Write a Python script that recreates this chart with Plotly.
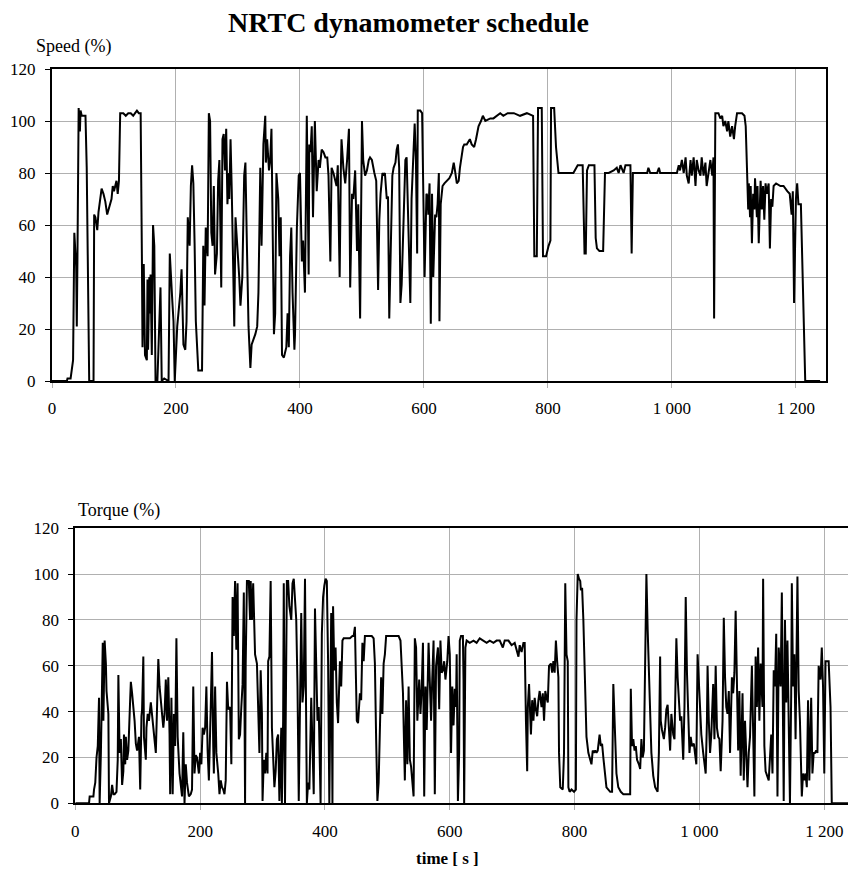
import plotly.graph_objects as go

# ---------------- data ----------------
speed_t = [0,24,25,30,34,36,39,40,41,43,45,46,48,54,56,59,60,67,68,70,73,75,80,83,86,89,94,96,98,100,102,104,106,108,110,115,119,123,127,131,134,137,140,143,
145,146,148,150,153,154,155,157,158,159,161,163,165,167,170,175,177,181,188,190,194,196,198,202,207,209,212,215,217,219,222,224,226,228,230,232,236,242,244,246,248,251,253,255,257,259,261,263,266,268,270,271,273,275,277,279,281,283,285,286,288,290,293,294,296,299,302,304,307,310,312,314,317,320,322,325,328,331,333,336,338,341,344,345,347,350,352,354,356,358,360,362,365,367,369,371,374,378,380,382,384,386,388,391,392,395,398,400,
403,405,408,411,414,415,417,419,421,423,424,427,430,432,435,438,441,444,446,449,451,454,457,459,461,464,466,467,470,473,476,479,481,484,486,489,492,494,497,500,502,505,508,511,513,516,520,523,526,528,530,533,535,537,540,542,544,547,549,551,554,556,558,560,562,564,567,570,572,575,578,580,583,585,587,589,590,594,597,599,
601,604,606,607,609,611,613,615,618,620,622,624,625,627,630,633,637,641,645,648,650,653,656,658,663,665,669,674,677,681,684,688,692,695,699,707,712,718,723,728,735,745,755,766,776,778,782,784,790,792,797,801,804,805,810,813,817,825,836,
841,848,856,859,861,863,866,875,877,879,883,889,891,892,898,906,911,914,917,922,925,933,935,937,944,960,962,965,976,979,981,1008,1011,1013,1016,1019,1022,1024,1027,1030,1032,1035,1038,1040,1043,1046,1048,1051,1054,1056,1059,1062,1065,1067,1068,1070,1075,1078,1081,1083,1086,1089,1091,1094,1097,1100,1102,1105,1113,1117,1119,
1121,1123,1124,1126,1127,1129,1131,1133,1134,1137,1138,1140,1143,1145,1147,1149,1151,1153,1156,1158,1160,1162,1164,1168,1175,1180,1186,1190,1193,1195,1197,1200,1202,1204,1208,1210,1213,1215,1239]
speed_v = [0,0,1,1,8,57,44,21,46,105,96,104,102,102,82,2,0,0,64,63,58,65,74,72,69,64,69,70,75,73,75,77,72,77,103,103,102,103,103,102,103,104,103,103,
48,13,45,10,8,39,12,40,26,41,10,60,52,0,0,36,0,1,0,49,31,23,0,21,34,43,14,12,23,63,52,75,83,76,53,23,4,4,52,29,59,48,103,100,57,52,75,41,49,77,85,63,36,93,95,81,97,68,80,70,93,73,36,21,63,52,40,29,40,79,84,57,21,5,14,16,18,21,34,82,52,91,102,84,93,81,85,97,64,18,26,80,70,48,63,10,9,13,26,13,48,59,34,12,18,59,79,80,
46,54,34,102,41,91,88,98,63,90,100,73,85,82,89,88,86,86,79,46,82,80,77,75,83,40,82,93,82,76,85,97,36,72,70,81,50,68,24,100,85,79,81,85,86,85,80,77,35,62,72,80,79,80,70,71,24,59,79,82,84,89,91,82,30,37,67,85,86,59,30,70,86,99,85,49,104,104,103,72,
40,72,71,64,76,22,72,40,64,63,68,80,23,68,75,76,77,78,80,84,81,76,77,82,90,91,91,93,91,90,93,98,100,102,100,101,101,102,103,102,103,103,102,103,102,48,48,105,105,48,48,52,54,105,105,90,80,80,80,
80,83,83,49,49,81,83,83,55,51,50,50,66,80,80,81,82,80,83,80,83,83,49,80,80,80,82,80,80,82,80,80,83,81,85,80,86,79,76,85,79,86,75,85,81,79,86,79,84,75,80,85,79,86,24,103,103,101,102,98,100,96,100,94,98,93,98,103,103,102,98,
77,66,76,63,75,53,72,66,78,63,75,53,77,66,75,62,76,72,76,51,70,67,75,76,75,75,73,72,64,73,30,70,76,68,68,46,14,0,0]

torque_t = [0,22,23,29,30,32,34,36,38,39,41,43,44,45,47,49,50,53,54,57,59,61,63,66,68,69,71,73,75,77,78,80,81,83,85,88,89,91,93,95,97,99,102,104,106,107,109,110,113,114,116,118,121,123,125,127,129,131,133,135,137,139,141,143,145,147,149,151,152,154,156,158,160,162,164,167,169,171,173,175,177,179,182,185,187,189,191,193,195,198,
200,202,204,206,208,210,212,214,217,219,221,222,224,226,229,231,233,235,237,239,241,243,245,248,250,252,254,256,258,260,262,264,266,268,270,272,273,275,278,280,281,283,285,287,
288,291,293,295,297,299,300,302,304,306,308,309,311,313,315,317,319,321,323,325,327,330,331,333,334,336,338,339,341,343,346,348,350,352,354,356,358,360,362,364,366,368,370,371,373,375,378,380,382,384,386,388,390,393,395,397,399,
401,403,405,407,409,410,412,413,415,417,419,421,424,426,428,430,435,440,444,446,448,450,451,453,456,458,460,462,464,468,475,478,480,482,484,486,488,490,492,494,496,498,502,507,512,518,521,523,525,527,528,530,532,534,536,538,540,542,544,546,548,551,553,555,557,559,561,563,566,568,570,572,574,576,578,581,583,585,587,589,591,593,596,598,
600,602,604,606,608,610,611,613,615,616,618,621,622,623,625,627,632,638,643,648,654,659,664,670,675,680,685,688,694,699,704,710,712,715,718,720,722,724,725,727,730,732,734,736,738,740,742,744,747,749,751,753,755,757,759,762,764,766,768,770,772,774,775,777,781,783,785,787,789,790,792,795,799,
802,803,805,807,809,810,812,814,817,819,822,825,827,829,831,833,835,837,840,842,844,846,849,851,857,860,862,865,867,870,874,878,889,890,892,894,896,898,900,903,905,907,909,911,913,915,917,919,921,923,926,929,933,935,937,938,940,943,945,947,949,951,953,955,958,960,962,963,965,967,969,971,974,976,978,980,982,984,986,988,991,993,995,997,999,
1001,1003,1006,1008,1010,1012,1013,1015,1017,1019,1022,1024,1026,1028,1030,1032,1034,1037,1039,1041,1043,1045,1047,1049,1052,1054,1056,1058,1060,1062,1064,1066,1069,1071,1073,1075,1077,1079,1081,1084,1086,1088,1090,1092,1094,1096,1098,
1101,1102,1104,1106,1108,1111,1115,1117,1119,1121,1123,1125,1127,1130,1132,1134,1135,1137,1139,1141,1143,1145,1147,1148,1150,1152,1154,1157,1159,1161,1164,1166,1168,1170,1172,1174,1176,1179,1181,1183,1185,1187,1189,1191,1194,1196,1198,
1200,1202,1207,1210,1212,1238]
torque_v = [0,0,3,3,6,9,20,25,46,0,22,48,70,36,71,61,49,39,0,3,8,4,4,5,19,56,22,28,8,14,30,17,29,19,23,46,53,48,42,36,26,23,29,6,38,41,64,29,19,33,39,36,44,39,33,29,22,42,63,51,45,36,33,39,54,36,55,30,4,46,4,39,25,72,29,13,7,3,31,0,17,9,3,4,6,51,13,21,20,13,
22,17,33,30,33,51,23,10,42,66,25,13,51,22,13,4,10,7,6,4,10,53,41,42,17,90,73,97,67,96,28,30,42,52,92,0,61,97,97,80,97,80,96,65,
65,61,36,22,58,39,1,19,13,22,13,62,64,97,33,22,7,14,28,30,1,33,0,36,96,0,62,97,97,86,80,96,98,89,80,51,1,42,83,44,51,98,46,0,9,6,46,22,4,85,54,36,42,0,74,90,95,
98,97,62,0,51,83,0,86,58,68,44,35,62,51,71,72,72,72,73,73,77,38,36,35,48,45,70,62,73,73,73,72,61,28,1,9,42,55,39,61,65,73,73,73,73,73,71,58,48,22,10,45,17,51,19,16,9,3,72,68,36,54,39,50,70,3,51,32,70,54,36,55,71,4,60,68,41,71,57,58,62,54,62,73,
65,22,51,34,50,42,65,1,22,71,73,73,54,0,68,71,70,71,70,72,71,70,71,70,71,71,68,71,71,69,70,64,69,66,70,70,36,14,42,52,30,45,36,46,41,38,45,49,42,48,36,49,46,44,60,61,57,62,57,71,62,55,22,7,6,22,96,65,62,7,5,6,5,
6,80,100,98,97,93,94,80,51,29,22,19,17,23,22,23,22,23,30,25,26,20,12,7,5,5,52,30,13,7,5,4,4,50,25,28,23,25,19,17,15,28,20,23,66,100,76,54,41,22,12,7,5,22,64,36,32,28,33,41,43,33,23,39,30,28,51,72,55,42,36,38,19,42,90,57,36,22,29,25,26,22,17,65,51,
36,30,22,16,13,36,60,36,22,30,52,28,60,33,29,28,14,36,81,55,42,39,49,22,55,48,57,84,42,23,49,12,48,10,36,22,7,22,29,60,22,3,64,42,68,36,61,
42,98,25,14,12,10,30,13,58,51,74,3,68,51,92,30,1,80,44,71,30,0,48,96,51,65,28,99,49,36,3,13,10,13,7,45,10,46,13,22,22,23,22,60,54,68,51,
13,62,62,42,0,0]

x_tick_vals = [0, 200, 400, 600, 800, 1000, 1200]
x_tick_text = ["0", "200", "400", "600", "800", "1 000", "1 200"]
y_tick_vals = [0, 20, 40, 60, 80, 100, 120]

# ---------------- figure ----------------
W, H = 848, 874
FONT = "Liberation Serif, Times New Roman, serif"
GRID = "#b0b0b0"

fig = go.Figure()
fig.add_trace(go.Scatter(x=speed_t, y=speed_v, mode="lines",
                         line=dict(color="black", width=2), xaxis="x", yaxis="y",
                         showlegend=False, hoverinfo="skip"))
fig.add_trace(go.Scatter(x=torque_t, y=torque_v, mode="lines",
                         line=dict(color="black", width=2), xaxis="x2", yaxis="y2",
                         showlegend=False, hoverinfo="skip"))

def px_x(p):
    return p / W

def px_y(p):
    return 1 - p / H

xcommon = dict(tickvals=x_tick_vals, ticktext=x_tick_text, showgrid=True,
               gridcolor=GRID, gridwidth=1, showline=True, linecolor="black",
               linewidth=2, mirror=True, ticks="outside", ticklen=5,
               tickcolor=GRID, tickfont=dict(family=FONT, size=17, color="black"),
               zeroline=False, ticklabelstandoff=6, automargin=False)
ycommon = dict(tickvals=y_tick_vals, range=[0, 120], showgrid=True,
               gridcolor=GRID, gridwidth=1, showline=True, linecolor="black",
               linewidth=2, ticks="outside", ticklen=5, tickcolor="black",
               tickfont=dict(family=FONT, size=17, color="black"),
               zeroline=False, ticklabelstandoff=6, automargin=False)

fig.update_layout(
    width=W, height=H, autosize=False,
    margin=dict(l=0, r=0, t=0, b=0, pad=0, autoexpand=False),
    paper_bgcolor="white", plot_bgcolor="white",
    xaxis=dict(domain=[px_x(52), px_x(826)], range=[0, 1248.5], anchor="y", **xcommon),
    yaxis=dict(domain=[px_y(381), px_y(69)], anchor="x", mirror=True, **ycommon),
    xaxis2=dict(domain=[px_x(75.3), 1.0], range=[0, 1238], anchor="y2", **xcommon),
    yaxis2=dict(domain=[px_y(803.3), px_y(528.3)], anchor="x2", mirror=False, **ycommon),
    annotations=[
        dict(text="<b>NRTC dynamometer schedule</b>", x=px_x(408), y=px_y(22),
             xref="paper", yref="paper", xanchor="center", yanchor="middle",
             showarrow=False, font=dict(family=FONT, size=28, color="black")),
        dict(text="Speed (%)", x=px_x(34), y=px_y(47), xref="paper", yref="paper",
             xanchor="left", yanchor="middle", showarrow=False,
             font=dict(family=FONT, size=18, color="black")),
        dict(text="Torque (%)", x=px_x(76), y=px_y(510), xref="paper", yref="paper",
             xanchor="left", yanchor="middle", showarrow=False,
             font=dict(family=FONT, size=18, color="black")),
        dict(text="<b>time [ s ]</b>", x=px_x(447), y=px_y(858), xref="paper", yref="paper",
             xanchor="center", yanchor="middle", showarrow=False,
             font=dict(family=FONT, size=17, color="black")),
    ],
)

fig.write_html(
    "out.html",
    config={"displayModeBar": False, "responsive": False},
    post_script="document.body.style.margin='0';document.body.style.overflow='hidden';",
)
